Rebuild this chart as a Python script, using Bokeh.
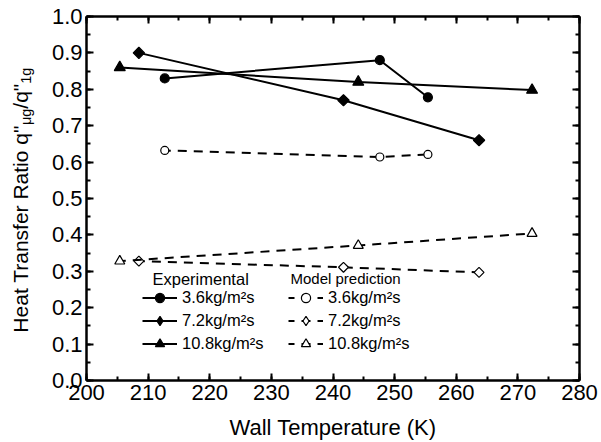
from bokeh.plotting import figure
from bokeh.models import (Range1d, SingleIntervalTicker, LinearAxis, Legend, LegendItem,
                          Label, PrintfTickFormatter)
from bokeh.layouts import row
from bokeh.embed import file_html
from bokeh.resources import INLINE
import math

# ---------------- data ----------------
exp_T_36 = [212.7, 247.6, 255.4]
exp_R_36 = [0.830, 0.880, 0.778]
exp_T_72 = [208.5, 241.7, 263.7]
exp_R_72 = [0.900, 0.770, 0.660]
exp_T_108 = [205.4, 244.1, 272.3]
exp_R_108 = [0.860, 0.820, 0.798]

mod_T_36 = [212.7, 247.6, 255.4]
mod_R_36 = [0.632, 0.614, 0.621]
mod_T_72 = [208.5, 241.7, 263.7]
mod_R_72 = [0.328, 0.311, 0.297]
mod_T_108 = [205.4, 244.1, 272.3]
mod_R_108 = [0.328, 0.371, 0.404]

labels = ["3.6kg/m\u00b2s", "7.2kg/m\u00b2s", "10.8kg/m\u00b2s"]

FONT = "Liberation Sans"
W, H = 601, 442
WL = 40                      # width of the strip holding the y title
L, R, T, B = 86, 22, 16, 61
X0, X1, Y0, Y1 = 200, 280, 0.0, 1.0

p = figure(width=W - WL, height=H, output_backend="svg", toolbar_location=None,
           x_range=Range1d(X0, X1), y_range=Range1d(Y0, Y1),
           min_border_left=L - WL, min_border_right=R, min_border_top=T,
           min_border_bottom=B, x_axis_location=None, y_axis_location=None)
p.grid.visible = False
p.outline_line_color = None

def make_axis(kind, show_labels):
    if kind == "x":
        ax = LinearAxis(ticker=SingleIntervalTicker(interval=10, num_minor_ticks=2))
    else:
        ax = LinearAxis(ticker=SingleIntervalTicker(interval=0.1, num_minor_ticks=2),
                        formatter=PrintfTickFormatter(format="%.1f"))
    ax.axis_line_width = 2.5
    ax.axis_line_color = "black"
    ax.major_tick_in = 7
    ax.major_tick_out = 0
    ax.minor_tick_in = 4
    ax.minor_tick_out = 0
    ax.major_tick_line_width = 2
    ax.minor_tick_line_width = 2
    ax.major_tick_line_color = "black"
    ax.minor_tick_line_color = "black"
    if show_labels:
        ax.major_label_text_font = FONT
        ax.major_label_text_font_size = "22px"
        ax.major_label_text_color = "black"
        ax.major_label_standoff = 4
    else:
        ax.major_label_text_font_size = "0px"
        ax.major_label_standoff = 0
        ax.major_label_text_alpha = 0
    return ax

xb = make_axis("x", True)
xb.axis_label = "Wall Temperature (K)"
xb.axis_label_text_font = FONT
xb.axis_label_text_font_size = "22px"
xb.axis_label_text_font_style = "normal"
xb.axis_label_text_color = "black"
xb.axis_label_standoff = 12
p.add_layout(xb, "below")
p.add_layout(make_axis("x", False), "above")
p.add_layout(make_axis("y", True), "left")
p.add_layout(make_axis("y", False), "right")

# ---------------- series ----------------
def series(xs, ys, marker, filled, size, angle=0.0, dash="solid"):
    ln = p.line(xs, ys, line_color="black", line_width=2, line_dash=dash,
                line_dash_offset=3 if dash != "solid" else 0)
    sc = p.scatter(xs, ys, marker=marker, size=size, angle=angle,
                   fill_color="black" if filled else "white",
                   line_color="black", line_width=1.2)
    return ln, sc

def key_marker(marker, filled, size):
    # marker shown only in the legend key (its single point is NaN, so never drawn)
    return p.scatter([float("nan")], [float("nan")], marker=marker, size=size,
                     fill_color="black" if filled else "white",
                     line_color="black", line_width=1.2)

e1 = series(exp_T_36, exp_R_36, "circle", True, 9)
e2 = series(exp_T_72, exp_R_72, "square", True, 8, angle=math.pi / 4)
e3 = series(exp_T_108, exp_R_108, "triangle", True, 11)
m1 = series(mod_T_36, mod_R_36, "circle", False, 8, dash="9 7")
m2 = series(mod_T_72, mod_R_72, "square", False, 7, angle=math.pi / 4, dash="9 7")
m3 = series(mod_T_108, mod_R_108, "triangle", False, 10, dash="9 7")

exp_items = [[e1[0], e1[1]], [e2[0], key_marker("diamond", True, 13)], [e3[0], e3[1]]]
mod_items = [[m1[0], m1[1]], [m2[0], key_marker("diamond", False, 11)], [m3[0], m3[1]]]

def legend(items, x):
    lg = Legend(items=[LegendItem(label=lab, renderers=r) for lab, r in items],
                location=(x, 25), orientation="vertical",
                glyph_width=35, glyph_height=23, label_height=23, spacing=0,
                padding=0, margin=0, label_standoff=5,
                background_fill_alpha=0, border_line_alpha=0,
                label_text_font=FONT, label_text_font_size="16.5px",
                label_text_color="black")
    p.add_layout(lg)

legend(list(zip(labels, exp_items)), 56)
legend(list(zip(labels, mod_items)), 202)

# ---------------- text helpers (screen -> data) ----------------
fw = W - L - R
fh = H - T - B
def dx(sx):
    return X0 + (sx - L) / fw * (X1 - X0)
def dy(sy):
    return Y0 + (H - B - sy) / fh * (Y1 - Y0)

for txt, sx, fs in [("Experimental", 152, "16.5px"), ("Model prediction", 290, "15px")]:
    p.add_layout(Label(x=dx(sx), y=dy(279), text=txt, text_font=FONT,
                       text_font_size=fs, text_baseline="middle",
                       text_align="left", text_color="black"))

# ---------------- y title strip (with subscripts) ----------------
# the strip's frame is aligned with the main frame (top T, bottom H-B),
# so its y range is chosen such that data y == H - screen y
pl = figure(width=WL, height=H, output_backend="svg", toolbar_location=None,
            x_range=Range1d(0, WL), y_range=Range1d(B, H - T),
            min_border_left=0, min_border_right=0, min_border_top=T,
            min_border_bottom=B, x_axis_location=None, y_axis_location=None)
pl.grid.visible = False
pl.outline_line_color = None

AW = {"H": 722, "e": 556, "a": 556, "t": 278, " ": 278, "T": 611, "r": 333, "n": 556,
      "s": 500, "f": 278, "R": 722, "i": 222, "o": 556, "q": 556, '"': 355,
      "\u03bc": 576, "g": 556, "/": 278, "1": 556}
def tw(s, size):
    return sum(AW.get(c, 556) for c in s) / 1000.0 * size

MAIN, SUB = 21, 14.5
pieces = [("Heat Transfer Ratio q\"", MAIN, 0), ("\u03bcg", SUB, 5),
          ("/q\"", MAIN, 0), ("1g", SUB, 5)]
sy = 333.0
base_x = 20.0
for txt, size, shift in pieces:
    pl.add_layout(Label(x=base_x + shift, y=H - sy, text=txt, angle=math.pi / 2,
                        text_font=FONT, text_font_size=f"{size}px",
                        text_align="left", text_baseline="alphabetic",
                        text_color="black"))
    sy -= tw(txt, size)

open("out.html", "w").write(file_html(row(pl, p), INLINE))
